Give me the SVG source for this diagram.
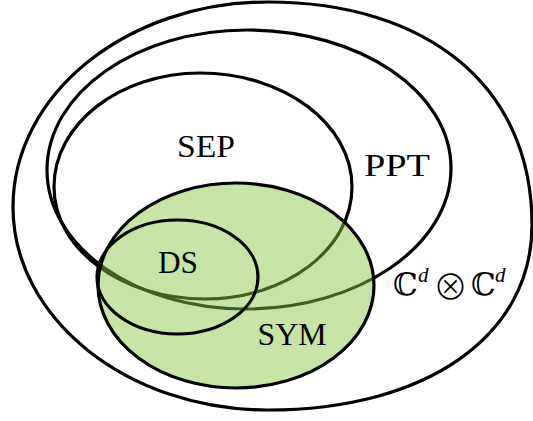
<svg xmlns="http://www.w3.org/2000/svg" width="533" height="421" viewBox="0 0 533 421">
  <style>
    .set { fill: none; stroke: #000; stroke-width: 3.2; }
    .lbl { font-family: "Liberation Serif", "Times New Roman", serif; font-size: 32px; fill: #000; text-anchor: middle; }
    .bb { font-family: "DejaVu Serif", "DejaVu Sans", serif; font-size: 31px; fill: #000; }
    .sup { font-family: "Liberation Serif", serif; font-style: italic; font-size: 21px; fill: #000; }
    .op { font-family: "Noto Sans CJK SC", "DejaVu Sans", sans-serif; font-weight: 300; font-size: 35px; fill: #000; text-anchor: middle; }
  </style>
  <rect width="533" height="421" fill="#fff"/>
  <g id="universe">
    <path class="set" d="M13,207 C13,93.8 127.2,2 268,2 C426,2 532,85 532,225 C532,336 426.4,410 268,410 C127.8,410 13,318.7 13,207 Z"/>
    <text class="bb" x="393" y="295">ℂ</text>
    <text class="sup" x="418" y="282">d</text>
    <text class="op" x="450.5" y="300">⊗</text>
    <text class="bb" x="471" y="295">ℂ</text>
    <text class="sup" x="495" y="282">d</text>
  </g>
  <g id="ppt">
    <path class="set" d="M47,170 C47,92.7 136.5,30 247,30 C359.7,30 451,91.8 451,168 C451,245.9 358.8,309 245,309 C135.6,309 47,246.8 47,170 Z"/>
    <text class="lbl" x="397" y="176" textLength="66" lengthAdjust="spacingAndGlyphs">PPT</text>
  </g>
  <g id="sep">
    <path class="set" d="M54,187 C54,124 119.4,73 200,73 C284,73 352,124 352,187 C352,248.9 286.2,299 205,299 C121.6,299 54,248.9 54,187 Z"/>
    <text class="lbl" x="206" y="157" textLength="58" lengthAdjust="spacingAndGlyphs">SEP</text>
  </g>
  <g id="sym">
    <ellipse cx="236" cy="285.5" rx="138" ry="102.5" fill="rgb(137,199,70)" fill-opacity="0.48" stroke="none"/>
    <ellipse class="set" cx="236" cy="285.5" rx="138" ry="102.5"/>
    <text class="lbl" x="292" y="345" textLength="69" lengthAdjust="spacingAndGlyphs">SYM</text>
  </g>
  <g id="ds">
    <ellipse class="set" cx="177.5" cy="277" rx="80.5" ry="57"/>
    <text class="lbl" x="178" y="273" textLength="40" lengthAdjust="spacingAndGlyphs">DS</text>
  </g>
</svg>
